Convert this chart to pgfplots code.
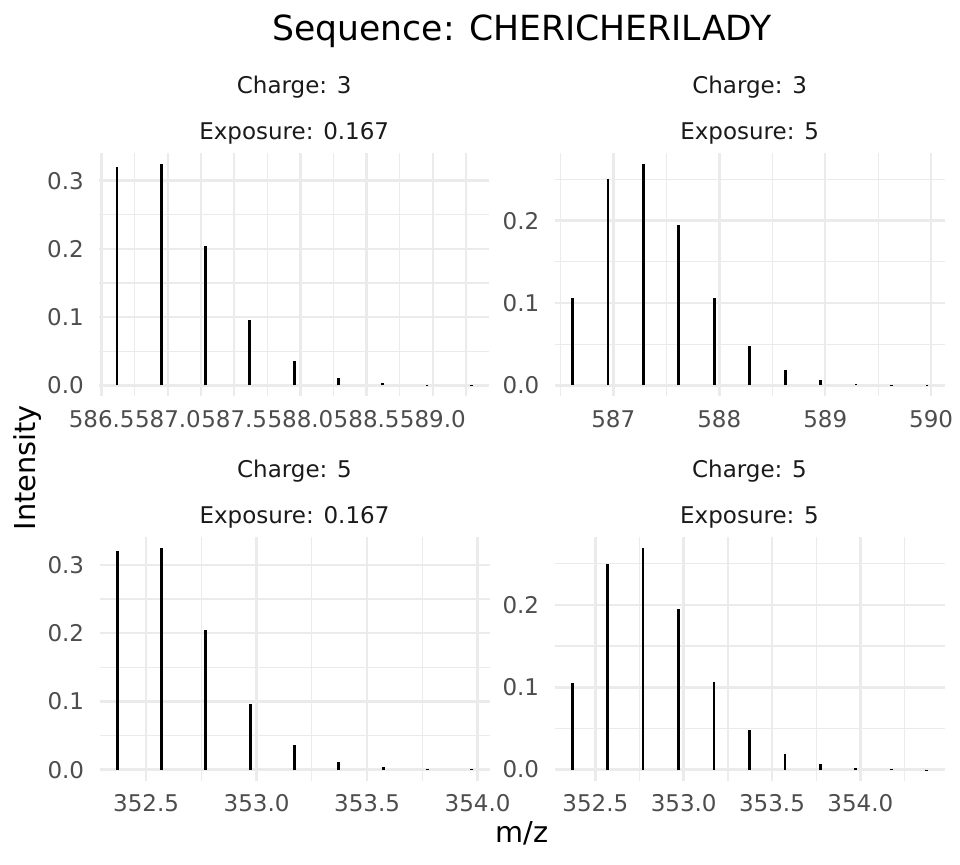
\documentclass[border=0pt]{standalone}
\usepackage{pgfplots}
\pgfplotsset{compat=1.18}
\usepackage{fontspec}
\setmainfont{DejaVu Sans}
\definecolor{gridc}{HTML}{EBEBEB}
\definecolor{tickc}{HTML}{4D4D4D}
\definecolor{stripc}{HTML}{1A1A1A}
\pgfplotsset{
  panel/.style={
    scale only axis, width=195pt, height=121.7pt, anchor=south west,
    axis line style={draw=none}, tick style={draw=none},
    major tick length=0pt, minor tick length=0pt,
    grid=both,
    major grid style={color=gridc, line width=1.25pt},
    minor grid style={color=gridc, line width=0.65pt},
    ticklabel style={font=\fontsize{11.5}{13.8}\selectfont, text=tickc},
    xticklabel style={anchor=north, inner sep=0pt, yshift=-6.8pt},
    yticklabel style={anchor=east, inner sep=0pt, xshift=-7.5pt},
    clip=false,
  },
  spec/.style={ycomb, black, line width=1.35pt, no marks},
}
\newcommand{\striptext}[2]{%
  \node[anchor=base, text=stripc, font=\fontsize{11.5}{13.8}\selectfont, yshift=29.85pt] at (rel axis cs:0.5,1) {#1};
  \node[anchor=base, text=stripc, font=\fontsize{11.5}{13.8}\selectfont, yshift=6.85pt] at (rel axis cs:0.5,1) {#2};
}
\begin{document}
\begin{tikzpicture}
\path[use as bounding box] (0,0) rectangle (480pt,432.5pt);

% Panel 1: Charge 3, Exposure 0.167
\begin{axis}[panel, at={(49.6pt,234.3pt)},
  xmin=586.481, xmax=589.425, ymin=-0.0162, ymax=0.3406,
  xtick={586.5,587,587.5,588,588.5,589},
  xticklabels={586.5,587.0,587.5,588.0,588.5,589.0},
  minor xtick={586.75,587.25,587.75,588.25,588.75,589.25},
  ytick={0,0.1,0.2,0.3}, yticklabels={0.0,0.1,0.2,0.3},
  minor ytick={0.05,0.15,0.25}]
\addplot[spec] coordinates {
 (586.615,0.3205) (586.949,0.3244) (587.284,0.2042) (587.618,0.0958)
 (587.953,0.0362) (588.287,0.0112) (588.622,0.0030) (588.956,0.0008)
 (589.291,0.0002)};
\striptext{Charge: 3}{Exposure: 0.167}
\end{axis}

% Panel 2: Charge 3, Exposure 5
\begin{axis}[panel, at={(277.3pt,234.3pt)},
  xmin=586.446, xmax=590.127, ymin=-0.01344, ymax=0.28224,
  xtick={587,588,589,590}, xticklabels={587,588,589,590},
  minor xtick={586.5,587.5,588.5,589.5},
  ytick={0,0.1,0.2}, yticklabels={0.0,0.1,0.2},
  minor ytick={0.05,0.15,0.25}]
\addplot[spec] coordinates {
 (586.615,0.1057) (586.949,0.2502) (587.284,0.2688) (587.618,0.1951)
 (587.953,0.1061) (588.287,0.0478) (588.622,0.0186) (588.956,0.0065)
 (589.291,0.0016) (589.625,0.0004) (589.960,0.0001)};
\striptext{Charge: 3}{Exposure: 5}
\end{axis}

% Panel 3: Charge 5, Exposure 0.167
\begin{axis}[panel, at={(49.75pt,42.15pt)},
  xmin=352.289, xmax=354.054, ymin=-0.0162, ymax=0.3406,
  xtick={352.5,353,353.5,354}, xticklabels={352.5,353.0,353.5,354.0},
  minor xtick={352.75,353.25,353.75},
  ytick={0,0.1,0.2,0.3}, yticklabels={0.0,0.1,0.2,0.3},
  minor ytick={0.05,0.15,0.25}]
\addplot[spec] coordinates {
 (352.369,0.3205) (352.570,0.3244) (352.770,0.2045) (352.971,0.0960)
 (353.172,0.0366) (353.372,0.0115) (353.573,0.0032) (353.774,0.0007)
 (353.974,0.0002)};
\striptext{Charge: 5}{Exposure: 0.167}
\end{axis}

% Panel 4: Charge 5, Exposure 5
\begin{axis}[panel, at={(277.25pt,42.15pt)},
  xmin=352.269, xmax=354.476, ymin=-0.01344, ymax=0.28224,
  xtick={352.5,353,353.5,354}, xticklabels={352.5,353.0,353.5,354.0},
  minor xtick={352.75,353.25,353.75,354.25},
  ytick={0,0.1,0.2}, yticklabels={0.0,0.1,0.2},
  minor ytick={0.05,0.15,0.25}]
\addplot[spec] coordinates {
 (352.369,0.1057) (352.570,0.2502) (352.770,0.2690) (352.971,0.1951)
 (353.172,0.1063) (353.372,0.0480) (353.573,0.0186) (353.774,0.0065)
 (353.974,0.0016) (354.175,0.0004) (354.376,0.0001)};
\striptext{Charge: 5}{Exposure: 5}
\end{axis}

% Titles
\node[anchor=base, font=\fontsize{17.3}{20}\selectfont] at (261pt,412pt) {Sequence: CHERICHERILADY};
\node[anchor=base, font=\fontsize{14.4}{17}\selectfont] at (261pt,11pt) {m/z};
\node[anchor=base, rotate=90, font=\fontsize{14.4}{17}\selectfont] at (17.5pt,198.6pt) {Intensity};
\end{tikzpicture}
\end{document}
